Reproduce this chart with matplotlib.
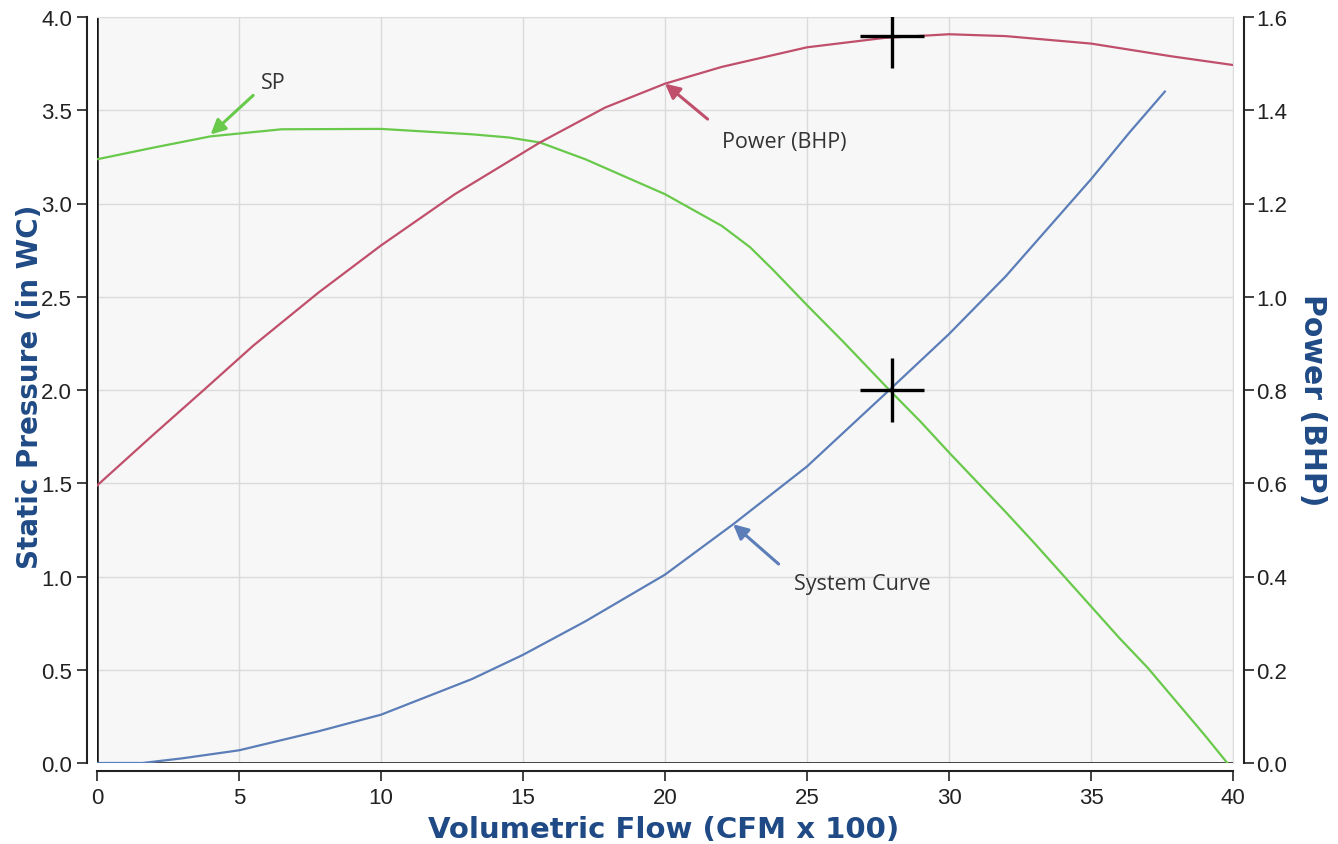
import numpy as np
import matplotlib
matplotlib.use("Agg")
import matplotlib.pyplot as plt

# Fan curve data
flow_sp = [0, 2, 4, 6.5, 10, 13.2, 14.5, 15.6, 17.2, 18.8, 20, 21, 22, 23,
           23.8, 25, 26.3, 27.9, 29, 30, 31, 32, 33, 34, 35, 36, 37, 38, 39,
           39.8]
static_pressure = [3.237, 3.30, 3.36, 3.398, 3.40, 3.371, 3.354, 3.327, 3.237,
                   3.13, 3.05, 2.965, 2.88, 2.765, 2.645, 2.455, 2.255, 2.00,
                   1.83, 1.665, 1.505, 1.345, 1.18, 1.01, 0.84, 0.67, 0.51,
                   0.33, 0.15, 0.0]

flow_power = [0, 2, 3.76, 5.5, 7.8, 10, 12.6, 15.6, 17.9, 20, 22, 25, 27.7,
              30, 32, 35, 37.8, 40]
power_bhp = [0.595, 0.705, 0.80, 0.895, 1.009, 1.11, 1.22, 1.331, 1.406,
             1.457, 1.493, 1.535, 1.555, 1.563, 1.559, 1.543, 1.516, 1.497]

flow_sys = [0, 1.6, 3, 5, 7.8, 10, 13.2, 15, 17.2, 20, 22.4, 25, 27.9, 30,
            32, 35, 36.35, 37.6]
system_sp = [0, 0.0, 0.025, 0.068, 0.17, 0.259, 0.45, 0.58, 0.76, 1.01,
             1.28, 1.59, 2.0, 2.30, 2.61, 3.13, 3.38, 3.60]

# Operating point
op_flow = 28
op_sp = 2.0
op_power = 1.559

x_ticks = [0, 5, 10, 15, 20, 25, 30, 35, 40]
sp_ticks = [0.0, 0.5, 1.0, 1.5, 2.0, 2.5, 3.0, 3.5, 4.0]
power_ticks = [0.0, 0.2, 0.4, 0.6, 0.8, 1.0, 1.2, 1.4, 1.6]

GREEN = "#69c94b"
RED = "#c04f6c"
BLUE = "#5b7db8"
LABEL_BLUE = "#1f4a85"
TEXT = "#333333"

plt.rcParams["font.family"] = ["Liberation Sans", "DejaVu Sans"]

fig = plt.figure(figsize=(13.38, 8.45), dpi=100)
ax = fig.add_axes([97 / 1338, 1 - 764 / 845, 1136 / 1338, 746 / 845])
ax.set_facecolor("#f7f7f7")

ax.set_xlim(0, 40)
ax.set_ylim(0, 4.0)
ax.set_xticks(x_ticks)
ax.set_yticks(sp_ticks)
ax.set_xticklabels([str(v) for v in x_ticks])
ax.set_yticklabels([f"{v:.1f}" for v in sp_ticks])
ax.grid(True, color="#dadada", lw=1.0)
ax.set_axisbelow(True)

ax.spines["left"].set_position(("outward", 7))
ax.spines["bottom"].set_position(("outward", 6))
for s in ("left", "bottom"):
    ax.spines[s].set_color("#222222")
    ax.spines[s].set_linewidth(1.5)
for s in ("top", "right"):
    ax.spines[s].set_color("#dddddd")
ax.tick_params(axis="both", length=7, width=1.2, color="#222222",
               labelsize=16, labelcolor="#222222", pad=4)

# frame lines at the plot edge
ax.axvline(0, color="#111111", lw=1.8, zorder=1.5)
ax.axhline(0, color="#111111", lw=1.8, zorder=1.5)

ax.plot(flow_sp, static_pressure, color=GREEN, lw=1.6, zorder=3)
ax.plot(flow_sys, system_sp, color=BLUE, lw=1.6, zorder=3)
ax.plot([op_flow], [op_sp], marker="+", ms=46, mew=2.4, color="black",
        zorder=5)

ax2 = ax.twinx()
ax2.set_ylim(0, 1.6)
ax2.set_yticks(power_ticks)
ax2.set_yticklabels([f"{v:.1f}" for v in power_ticks])
for s in ("top", "left", "bottom"):
    ax2.spines[s].set_visible(False)
ax2.spines["right"].set_position(("outward", 8))
ax2.spines["right"].set_color("#222222")
ax2.spines["right"].set_linewidth(1.5)
ax2.tick_params(axis="y", length=7, width=1.2, color="#222222",
                labelsize=16, labelcolor="#222222", pad=2)
ax2.plot(flow_power, power_bhp, color=RED, lw=1.6, zorder=3)
ax2.plot([op_flow], [op_power], marker="+", ms=46, mew=2.4, color="black",
         zorder=5)

# curve labels with arrows
arrow_kw = dict(arrowstyle="-|>", lw=2.2, mutation_scale=22, shrinkA=0,
                shrinkB=0)
ann_font = dict(fontsize=15.5, color=TEXT, family=["Open Sans", "DejaVu Sans"],
                ha="center", va="center")

ax.annotate("", xy=(4.0, 3.37), xytext=(5.5, 3.58),
            arrowprops=dict(color=GREEN, **arrow_kw))
ax.text(6.2, 3.65, "SP", **ann_font)

ax2.annotate("", xy=(20.0, 1.457), xytext=(21.5, 1.381),
             arrowprops=dict(color=RED, **arrow_kw))
ax2.text(24.2, 1.333, "Power (BHP)", **ann_font)

ax.annotate("", xy=(22.4, 1.28), xytext=(24.0, 1.067),
            arrowprops=dict(color=BLUE, **arrow_kw))
ax.text(26.95, 0.965, "System Curve", **ann_font)

# axis titles
lab_font = dict(fontweight="bold", color=LABEL_BLUE, family="DejaVu Sans",
                ha="center", va="center")
fig.text(664 / 1338, 1 - 830 / 845, "Volumetric Flow (CFM x 100)",
         fontsize=21, **lab_font)
fig.text(30 / 1338, 1 - 387 / 845, "Static Pressure (in WC)", rotation=90,
         fontsize=20, **lab_font)
fig.text(1313 / 1338, 1 - 400 / 845, "Power (BHP)", rotation=270,
         fontsize=21.5, **lab_font)

fig.savefig("out.png", dpi=100)
